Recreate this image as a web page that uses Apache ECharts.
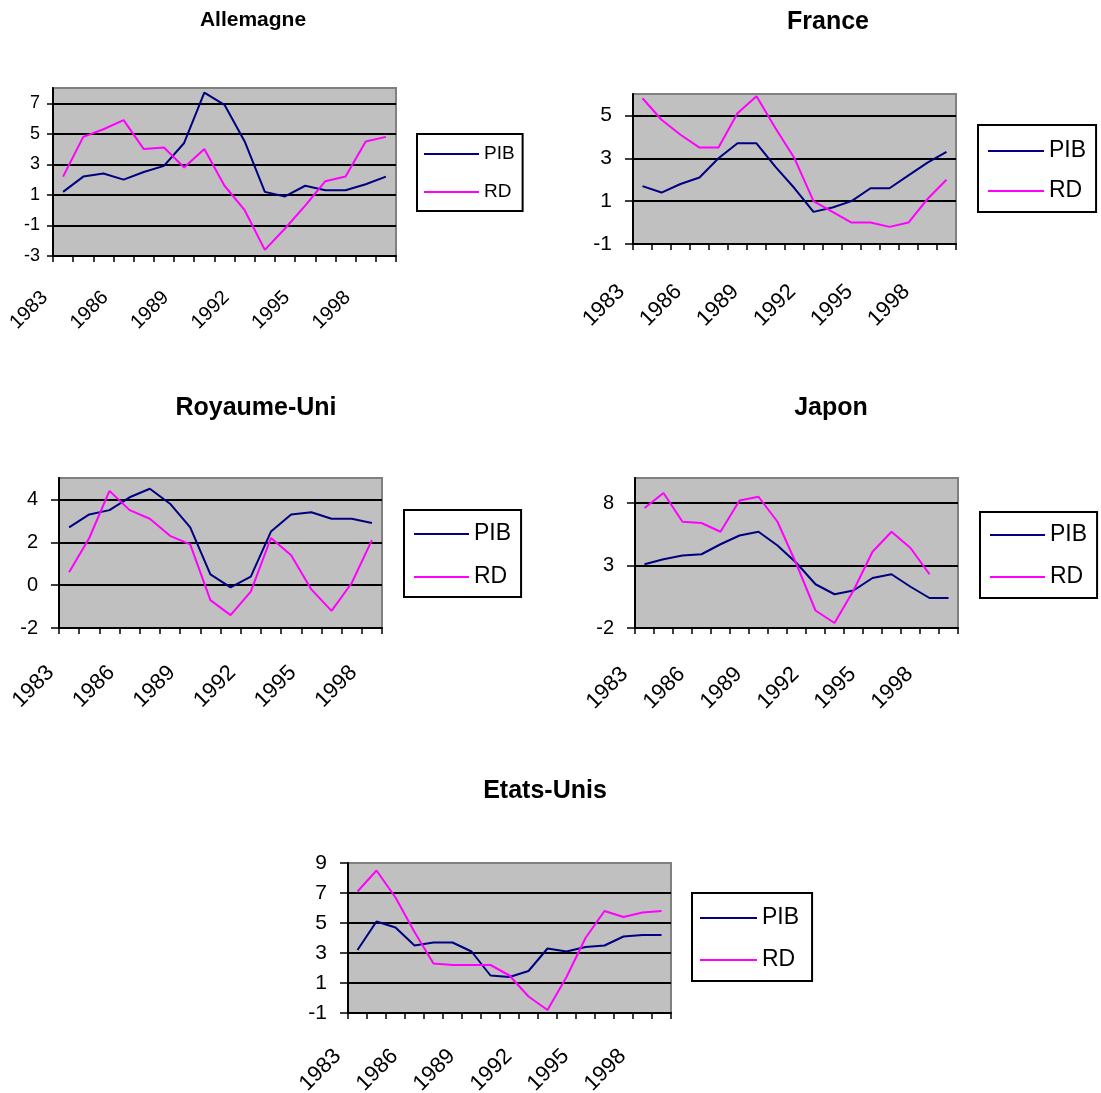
<!DOCTYPE html>
<html><head><meta charset="utf-8">
<script src="https://cdn.jsdelivr.net/npm/echarts@6/dist/echarts.min.js"></script>
<style>html,body{margin:0;padding:0;background:#fff}#c{width:1101px;height:1093px}</style>
</head><body><div id="c"></div>
<script>
// ---- data ----
const years17 = ['1983','1984','1985','1986','1987','1988','1989','1990','1991','1992','1993','1994','1995','1996','1997','1998','1999'];
const years16 = ['1983','1984','1985','1986','1987','1988','1989','1990','1991','1992','1993','1994','1995','1996','1997','1998'];

const allemagnePIB = [1.2, 2.2, 2.4, 2.0, 2.5, 2.9, 4.4, 7.7, 6.9, 4.5, 1.2, 0.9, 1.6, 1.3, 1.3, 1.7, 2.2];
const allemagneRD  = [2.2, 4.8, 5.3, 5.9, 4.0, 4.1, 2.8, 4.0, 1.6, 0.0, -2.6, -1.2, 0.3, 1.9, 2.2, 4.5, 4.8];

const francePIB = [1.7, 1.4, 1.8, 2.1, 3.0, 3.7, 3.7, 2.6, 1.6, 0.5, 0.7, 1.0, 1.6, 1.6, 2.2, 2.8, 3.3];
const franceRD  = [5.8, 4.8, 4.1, 3.5, 3.5, 5.1, 5.9, 4.4, 3.0, 1.0, 0.5, 0.0, 0.0, -0.2, 0.0, 1.1, 2.0];

const ruPIB = [2.7, 3.3, 3.5, 4.1, 4.5, 3.8, 2.7, 0.5, -0.1, 0.4, 2.5, 3.3, 3.4, 3.1, 3.1, 2.9];
const ruRD  = [0.6, 2.2, 4.4, 3.5, 3.1, 2.3, 1.9, -0.7, -1.4, -0.3, 2.2, 1.4, -0.2, -1.2, 0.1, 2.1];

const japonPIB = [3.1, 3.5, 3.8, 3.9, 4.7, 5.4, 5.7, 4.6, 3.2, 1.5, 0.7, 1.0, 2.0, 2.3, 1.3, 0.4, 0.4];
const japonRD  = [7.6, 8.8, 6.5, 6.4, 5.7, 8.2, 8.5, 6.5, 3.1, -0.6, -1.6, 1.0, 4.1, 5.7, 4.4, 2.3];

const euPIB = [3.2, 5.1, 4.7, 3.5, 3.7, 3.7, 3.1, 1.5, 1.4, 1.8, 3.3, 3.1, 3.4, 3.5, 4.1, 4.2, 4.2];
const euRD  = [7.1, 8.5, 6.7, 4.4, 2.3, 2.2, 2.2, 2.2, 1.5, 0.1, -0.8, 1.4, 4.0, 5.8, 5.4, 5.7, 5.8];

const yTicksAllemagne = [-3, -1, 1, 3, 5, 7];
const yTicksFrance = [-1, 1, 3, 5];
const yTicksRU = [-2, 0, 2, 4];
const yTicksJapon = [-2, 3, 8];
const yTicksEU = [-1, 1, 3, 5, 7, 9];

const seriesNames = ['PIB', 'RD'];
const titles = ['Allemagne', 'France', 'Royaume-Uni', 'Japon', 'Etats-Unis'];

// ---- layout / style ----
const panels = [
  {title: titles[0], cats: years17, pib: allemagnePIB, rd: allemagneRD, ticks: yTicksAllemagne, min: -3, max: 8, interval: 2,
   tx: 253, ty: 10, tsize: 21,
   grid: {left: 53, top: 88, width: 343, height: 168}, yfs: 18, ymargin: 13, ytick: 6, xfs: 20, xmargin: 20, xpad: 26,
   leg: {left: 417, top: 134, fs: 19, lh: 20, gap: 18, pad: [10, 8, 9, 7], iw: 55}},
  {title: titles[1], cats: years17, pib: francePIB, rd: franceRD, ticks: yTicksFrance, min: -1, max: 6, interval: 2,
   tx: 828, ty: 10, tsize: 25,
   grid: {left: 633, top: 94, width: 323, height: 150}, yfs: 21, ymargin: 21, ytick: 8, xfs: 22, xmargin: 23, xpad: 30,
   leg: {left: 978, top: 125, fs: 23, lh: 24, gap: 16, pad: [14, 10, 9, 10], iw: 56}},
  {title: titles[2], cats: years16, pib: ruPIB, rd: ruRD, ticks: yTicksRU, min: -2, max: 5, interval: 2,
   tx: 256, ty: 396, tsize: 25,
   grid: {left: 59, top: 478, width: 323, height: 150}, yfs: 20, ymargin: 21, ytick: 8, xfs: 22, xmargin: 23, xpad: 26,
   leg: {left: 404, top: 510, fs: 23, lh: 24, gap: 19, pad: [12, 10, 8, 10], iw: 55}},
  {title: titles[3], cats: years17, pib: japonPIB, rd: japonRD, ticks: yTicksJapon, min: -2, max: 10, interval: 5,
   tx: 831, ty: 396, tsize: 25,
   grid: {left: 635, top: 478, width: 323, height: 150}, yfs: 20, ymargin: 21, ytick: 8, xfs: 22, xmargin: 23, xpad: 28,
   leg: {left: 980, top: 512, fs: 23, lh: 24, gap: 18, pad: [11, 10, 9, 10], iw: 55}},
  {title: titles[4], cats: years17, pib: euPIB, rd: euRD, ticks: yTicksEU, min: -1, max: 9, interval: 2,
   tx: 545, ty: 779, tsize: 25,
   grid: {left: 348, top: 863, width: 323, height: 150}, yfs: 21, ymargin: 21, ytick: 8, xfs: 22, xmargin: 20, xpad: 28,
   leg: {left: 692, top: 893, fs: 23, lh: 24, gap: 18, pad: [13, 13, 9, 8], iw: 57}}
];

const FONT = '"Liberation Sans", Arial, sans-serif';
const option = {
  animation: false,
  backgroundColor: '#ffffff',
  title: [], grid: [], xAxis: [], yAxis: [], series: [], legend: []
};

panels.forEach((p, i) => {
  const maxInTicks = p.ticks.indexOf(p.max) >= 0;
  option.title.push({
    text: p.title, left: p.tx, top: p.ty, textAlign: 'center', padding: 0,
    textStyle: {fontFamily: FONT, fontWeight: 'bold', fontSize: p.tsize, color: '#000', lineHeight: p.tsize}
  });
  option.grid.push(Object.assign({
    show: true, backgroundColor: '#C0C0C0', borderColor: '#808080', borderWidth: 2,
    containLabel: false, outerBoundsMode: 'none'
  }, p.grid));
  option.xAxis.push({
    type: 'category', gridIndex: i, data: p.cats, boundaryGap: true,
    axisLine: {show: true, onZero: false, lineStyle: {color: '#000', width: 2}},
    axisTick: {show: true, interval: 0, length: 6, inside: false, lineStyle: {color: '#000', width: 1.5}},
    axisLabel: {show: true, interval: 2, rotate: 45, margin: p.xmargin, color: '#000',
      fontFamily: FONT, fontSize: p.xfs, padding: [0, p.xpad, 0, 0]},
    splitLine: {show: false}
  });
  option.yAxis.push({
    type: 'value', gridIndex: i, min: p.min, max: p.max, interval: p.interval,
    axisLine: {show: true, onZero: false, lineStyle: {color: '#000', width: 2}},
    axisTick: {show: true, length: p.ytick, inside: false, customValues: p.ticks, lineStyle: {color: '#000', width: 1.5}},
    axisLabel: {show: true, customValues: p.ticks, margin: p.ymargin, color: '#000', fontFamily: FONT, fontSize: p.yfs,
      showMinLabel: true, showMaxLabel: true},
    splitLine: {show: true, showMinLine: false, showMaxLine: !maxInTicks, lineStyle: {color: '#000', width: 2}}
  });
  option.series.push({
    name: seriesNames[0], type: 'line', xAxisIndex: i, yAxisIndex: i, data: p.pib,
    symbol: 'none', showSymbol: false, lineStyle: {color: '#000080', width: 2}, itemStyle: {color: '#000080'}, z: 3
  });
  option.series.push({
    name: seriesNames[1], type: 'line', xAxisIndex: i, yAxisIndex: i, data: p.rd,
    symbol: 'none', showSymbol: false, lineStyle: {color: '#FF00FF', width: 2}, itemStyle: {color: '#FF00FF'}, z: 3
  });
  option.legend.push({
    show: true, orient: 'vertical', left: p.leg.left, top: p.leg.top, data: seriesNames,
    icon: 'rect', itemWidth: p.leg.iw, itemHeight: 2, itemGap: p.leg.gap, padding: p.leg.pad,
    borderColor: '#000', borderWidth: 2, backgroundColor: '#fff', selectedMode: false,
    textStyle: {fontFamily: FONT, fontSize: p.leg.fs, color: '#000', lineHeight: p.leg.lh}
  });
});

const chart = echarts.init(document.getElementById('c'), null, {renderer: 'canvas'});
chart.setOption(option);
</script>
</body></html>
